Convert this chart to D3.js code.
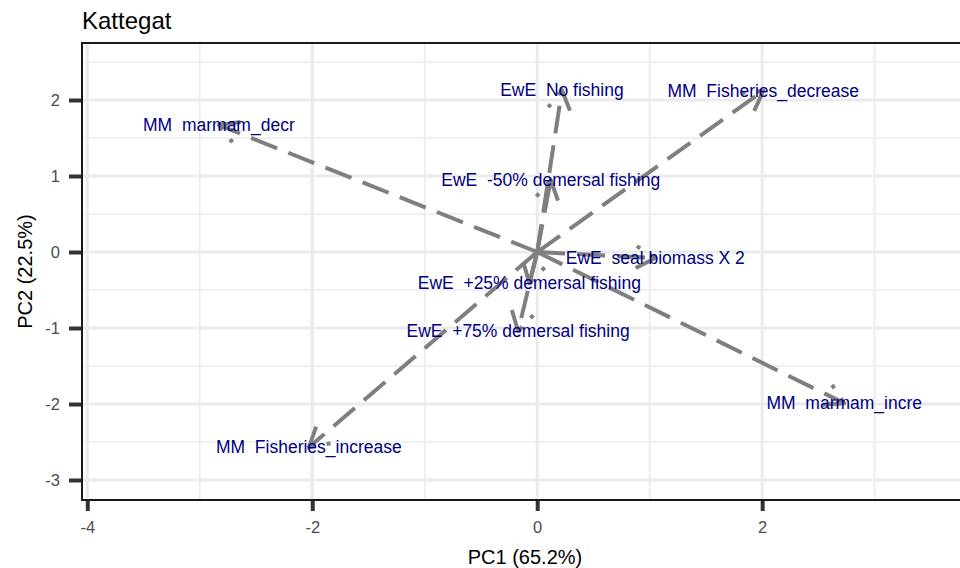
<!DOCTYPE html>
<html>
<head>
<meta charset="utf-8">
<script src="https://cdn.jsdelivr.net/npm/d3@7"></script>
<style>
  body { margin: 0; background: #fff; }
  svg { display: block; font-family: "Liberation Sans", Arial, sans-serif; }
</style>
</head>
<body>
<div id="chart"></div>
<script>
// scenario loadings (PC1, PC2)
const scenarioNames = [
    "EwE  No fishing",
    "MM  Fisheries_decrease",
    "MM  marmam_decr",
    "EwE  -50% demersal fishing",
    "EwE  seal biomass X 2",
    "EwE  +25% demersal fishing",
    "EwE  +75% demersal fishing",
    "MM  Fisheries_increase",
    "MM  marmam_incre"
];
const pc1Values = [0.22, 2.01, -2.83, 0.12, 1.05, -0.07, -0.17, -2.03, 2.73];
const pc2Values = [2.13, 2.12, 1.67, 0.95, -0.08, -0.41, -1.04, -2.57, -1.99];

const xMajorTicks = [-4, -2, 0, 2];
const xMinorTicks = [-3, -1, 1, 3];
const yMajorTicks = [-3, -2, -1, 0, 1, 2];
const yMinorTicks = [-2.5, -1.5, -0.5, 0.5, 1.5, 2.5];

const chartTitle = "Kattegat";
const xTitle = "PC1 (65.2%)";
const yTitle = "PC2 (22.5%)";

class BiplotD3 {
    margin = {top: 43, right: -8, bottom: 68, left: 82};
    size;
    width;
    height;
    svg;
    panel;
    xScale;
    yScale;
    arrowColor = "#7f7f7f";
    arrowWidth = 4;
    dash = "28,12";
    headLength = 22;
    headAngle = Math.PI / 6;

    constructor(el){
        this.el = el;
    }

    create = function (config) {
        this.size = {width: config.size.width, height: config.size.height};
        this.width = this.size.width - this.margin.left - this.margin.right;
        this.height = this.size.height - this.margin.top - this.margin.bottom;

        this.svg = d3.select(this.el).append("svg")
            .attr("width", this.size.width)
            .attr("height", this.size.height);

        this.panel = this.svg.append("g")
            .attr("transform", "translate(" + this.margin.left + "," + this.margin.top + ")");

        this.xScale = d3.scaleLinear().domain([-4.047, 3.83]).range([0, this.width]);
        this.yScale = d3.scaleLinear().domain([-3.263, 2.75]).range([this.height, 0]);
    }

    renderGrid = function () {
        const g = this.panel.append("g").attr("class", "grid");
        // minor lines first, major on top
        g.selectAll(".xMinor").data(xMinorTicks).join("line")
            .attr("x1", d => this.xScale(d)).attr("x2", d => this.xScale(d))
            .attr("y1", 0).attr("y2", this.height)
            .attr("stroke", "#ebebeb").attr("stroke-width", 1.6);
        g.selectAll(".yMinor").data(yMinorTicks).join("line")
            .attr("y1", d => this.yScale(d)).attr("y2", d => this.yScale(d))
            .attr("x1", 0).attr("x2", this.width)
            .attr("stroke", "#ebebeb").attr("stroke-width", 1.6);
        g.selectAll(".xMajor").data(xMajorTicks).join("line")
            .attr("x1", d => this.xScale(d)).attr("x2", d => this.xScale(d))
            .attr("y1", 0).attr("y2", this.height)
            .attr("stroke", "#ebebeb").attr("stroke-width", 3);
        g.selectAll(".yMajor").data(yMajorTicks).join("line")
            .attr("y1", d => this.yScale(d)).attr("y2", d => this.yScale(d))
            .attr("x1", 0).attr("x2", this.width)
            .attr("stroke", "#ebebeb").attr("stroke-width", 3);
    }

    renderAxes = function () {
        const plain = d => String(d);   // ggplot labels use a plain hyphen
        const xAxisG = this.panel.append("g")
            .attr("transform", "translate(0," + this.height + ")")
            .call(d3.axisBottom(this.xScale).tickValues(xMajorTicks).tickFormat(plain).tickSize(11).tickPadding(10));
        const yAxisG = this.panel.append("g")
            .call(d3.axisLeft(this.yScale).tickValues(yMajorTicks).tickFormat(plain).tickSize(13).tickPadding(9));

        [xAxisG, yAxisG].forEach(a => {
            a.attr("font-size", 16.5).attr("font-family", "'Liberation Sans', Arial, sans-serif");
            a.select(".domain").remove();
            a.selectAll(".tick line").attr("stroke", "#333").attr("stroke-width", 4);
            a.selectAll(".tick text").attr("fill", "#4d4d4d");
        });

        // panel border
        this.panel.append("rect")
            .attr("x", 0).attr("y", 0)
            .attr("width", this.width).attr("height", this.height)
            .attr("fill", "none").attr("stroke", "#1a1a1a").attr("stroke-width", 2);

        this.svg.append("text")
            .attr("x", this.margin.left + this.width / 2)
            .attr("y", 564)
            .attr("text-anchor", "middle")
            .style("font-size", "20px")
            .attr("fill", "#000")
            .text(xTitle);

        this.svg.append("text")
            .attr("transform", "translate(32," + (this.margin.top + this.height / 2) + ") rotate(-90)")
            .attr("text-anchor", "middle")
            .style("font-size", "20px")
            .attr("fill", "#000")
            .text(yTitle);

        this.svg.append("text")
            .attr("x", this.margin.left)
            .attr("y", 29)
            .style("font-size", "24px")
            .attr("fill", "#000")
            .text(chartTitle);
    }

    renderArrows = function (data) {
        const x0 = this.xScale(0), y0 = this.yScale(0);
        const arrowG = this.panel.append("g").attr("class", "arrows");

        const itemG = arrowG.selectAll(".arrowG").data(data).join("g").attr("class", "arrowG");

        // shaft, dashed from the origin
        itemG.append("line")
            .attr("x1", x0).attr("y1", y0)
            .attr("x2", d => this.xScale(d.pc1))
            .attr("y2", d => this.yScale(d.pc2))
            .attr("stroke", this.arrowColor)
            .attr("stroke-width", this.arrowWidth)
            .attr("stroke-dasharray", this.dash);

        // open head, drawn wing -> tip -> wing with the same dash pattern
        itemG.append("path")
            .attr("d", d => {
                const tx = this.xScale(d.pc1), ty = this.yScale(d.pc2);
                const a = Math.atan2(y0 - ty, x0 - tx);
                const w1 = [tx + this.headLength * Math.cos(a - this.headAngle), ty + this.headLength * Math.sin(a - this.headAngle)];
                const w2 = [tx + this.headLength * Math.cos(a + this.headAngle), ty + this.headLength * Math.sin(a + this.headAngle)];
                return "M" + w1[0] + "," + w1[1] + "L" + tx + "," + ty + "L" + w2[0] + "," + w2[1];
            })
            .attr("fill", "none")
            .attr("stroke", this.arrowColor)
            .attr("stroke-width", this.arrowWidth)
            .attr("stroke-linejoin", "round")
            .attr("stroke-dasharray", this.dash);

        // labels centred on the arrow tips
        this.panel.append("g").selectAll(".label").data(data).join("text")
            .attr("class", "label")
            .attr("x", d => this.xScale(d.pc1))
            .attr("y", d => this.yScale(d.pc2))
            .attr("dy", "0.35em")
            .attr("text-anchor", "middle")
            .attr("fill", "#000080")
            .style("font-size", "17.5px")
            .style("white-space", "pre")
            .text(d => d.name);
    }
}

const visData = scenarioNames.map((name, i) => ({name: name, pc1: pc1Values[i], pc2: pc2Values[i]}));

const biplot = new BiplotD3(document.getElementById("chart"));
biplot.create({size: {width: 960, height: 568}});
biplot.renderGrid();
biplot.renderArrows(visData);
biplot.renderAxes();
</script>
</body>
</html>
